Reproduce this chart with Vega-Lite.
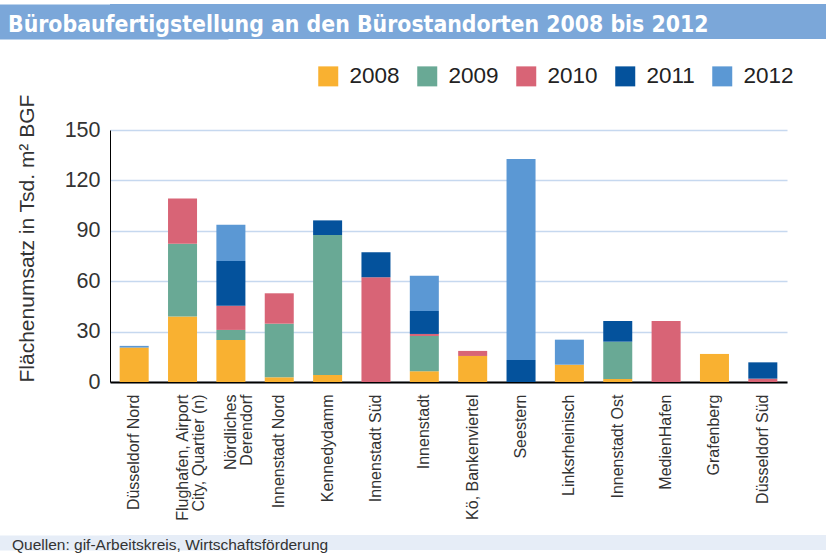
{
  "$schema": "https://vega.github.io/schema/vega-lite/v6.json",
  "background": "white",
  "padding": {"left": 0, "top": 4, "right": 0, "bottom": 0},
  "spacing": 13,
  "config": {"view": {"stroke": null}, "font": "Liberation Sans"},
  "resolve": {"scale": {"color": "independent", "y": "independent"}, "legend": {"color": "independent"}, "axis": {"y": "independent"}},
  "vconcat": [
    {
      "width": 716,
      "height": 35,
      "view": {"fill": "#7ba7d9", "stroke": null},
      "data": {"values": [{"t": "Bürobaufertigstellung an den Bürostandorten 2008 bis 2012"}]},
      "mark": {"type": "text", "align": "left", "baseline": "alphabetic", "dy": 10.5, "font": "DejaVu Sans Condensed, Liberation Sans, sans-serif", "fontWeight": "bold", "fontSize": 22.8, "color": "white"},
      "encoding": {
        "text": {"field": "t"},
        "x": {"value": -102},
        "y": {"field": "t", "type": "nominal", "axis": {"title": null, "labels": false, "ticks": false, "grid": false, "domainColor": "#7ba7d9", "domainWidth": 236}}
      }
    },
    {
      "vconcat": [
        {
          "width": 677,
          "height": 252,
          "data": {"values": [
            {"Standort": "Düsseldorf Nord", "Jahr": "2008", "Wert": 20.5},
            {"Standort": "Düsseldorf Nord", "Jahr": "2012", "Wert": 1.0},
            {"Standort": "Flughafen, Airport\nCity, Quartier (n)", "Jahr": "2008", "Wert": 39},
            {"Standort": "Flughafen, Airport\nCity, Quartier (n)", "Jahr": "2009", "Wert": 43.3},
            {"Standort": "Flughafen, Airport\nCity, Quartier (n)", "Jahr": "2010", "Wert": 27},
            {"Standort": "Nördliches\nDerendorf", "Jahr": "2008", "Wert": 25},
            {"Standort": "Nördliches\nDerendorf", "Jahr": "2009", "Wert": 6},
            {"Standort": "Nördliches\nDerendorf", "Jahr": "2010", "Wert": 14.4},
            {"Standort": "Nördliches\nDerendorf", "Jahr": "2011", "Wert": 26.6},
            {"Standort": "Nördliches\nDerendorf", "Jahr": "2012", "Wert": 21.6},
            {"Standort": "Innenstadt Nord", "Jahr": "2008", "Wert": 2.8},
            {"Standort": "Innenstadt Nord", "Jahr": "2009", "Wert": 31.9},
            {"Standort": "Innenstadt Nord", "Jahr": "2010", "Wert": 18.1},
            {"Standort": "Kennedydamm", "Jahr": "2008", "Wert": 4.2},
            {"Standort": "Kennedydamm", "Jahr": "2009", "Wert": 83.3},
            {"Standort": "Kennedydamm", "Jahr": "2011", "Wert": 8.7},
            {"Standort": "Innenstadt Süd", "Jahr": "2010", "Wert": 62.3},
            {"Standort": "Innenstadt Süd", "Jahr": "2011", "Wert": 14.9},
            {"Standort": "Innenstadt", "Jahr": "2008", "Wert": 6.4},
            {"Standort": "Innenstadt", "Jahr": "2009", "Wert": 21},
            {"Standort": "Innenstadt", "Jahr": "2010", "Wert": 1.2},
            {"Standort": "Innenstadt", "Jahr": "2011", "Wert": 13.7},
            {"Standort": "Innenstadt", "Jahr": "2012", "Wert": 21},
            {"Standort": "Kö, Bankenviertel", "Jahr": "2008", "Wert": 15.5},
            {"Standort": "Kö, Bankenviertel", "Jahr": "2010", "Wert": 3},
            {"Standort": "Seestern", "Jahr": "2011", "Wert": 13.1},
            {"Standort": "Seestern", "Jahr": "2012", "Wert": 119.6},
            {"Standort": "Linksrheinisch", "Jahr": "2008", "Wert": 10.3},
            {"Standort": "Linksrheinisch", "Jahr": "2012", "Wert": 14.9},
            {"Standort": "Innenstadt Ost", "Jahr": "2008", "Wert": 1.8},
            {"Standort": "Innenstadt Ost", "Jahr": "2009", "Wert": 22.2},
            {"Standort": "Innenstadt Ost", "Jahr": "2011", "Wert": 12.3},
            {"Standort": "MedienHafen", "Jahr": "2010", "Wert": 36.3},
            {"Standort": "Grafenberg", "Jahr": "2008", "Wert": 16.7},
            {"Standort": "Düsseldorf Süd", "Jahr": "2010", "Wert": 2},
            {"Standort": "Düsseldorf Süd", "Jahr": "2011", "Wert": 9.7}
          ]},
          "mark": {"type": "bar"},
          "encoding": {
            "x": {
              "field": "Standort", "type": "nominal", "sort": null,
              "scale": {"paddingInner": 0.4, "paddingOuter": 0.2},
              "axis": {
                "title": null, "labelAngle": -90, "labelAlign": "right", "labelBaseline": "middle",
                "labelPadding": 12, "ticks": false, "tickSize": 0, "domainColor": "black", "domainWidth": 2,
                "labelFontSize": 16, "labelColor": "#333", "labelExpr": "split(datum.label, '\\n')",
                "labelLineHeight": 16, "labelLimit": 300, "labelOverlap": false
              }
            },
            "y": {
              "field": "Wert", "type": "quantitative", "stack": "zero",
              "scale": {"domain": [0, 150], "nice": false},
              "axis": {
                "title": ["", "Flächenumsatz in Tsd. m² BGF"], "titleFontSize": 21, "titleFontWeight": "normal",
                "titleColor": "#333", "titleAnchor": "start", "titlePadding": 27, "titleLineHeight": 16,
                "labelFontSize": 21.5, "labelColor": "#333", "labelPadding": 10, "ticks": false, "tickSize": 0,
                "domainColor": "black", "domainWidth": 1, "gridColor": "#c6d8ef", "gridWidth": 1.5,
                "values": [0, 30, 60, 90, 120, 150]
              }
            },
            "color": {
              "field": "Jahr", "type": "nominal",
              "scale": {"domain": ["2008", "2009", "2010", "2011", "2012"], "range": ["#f9b131", "#69a995", "#d86476", "#04529c", "#5b98d4"]},
              "legend": {
                "title": null, "orient": "none", "direction": "horizontal", "legendX": 194, "legendY": -78,
                "padding": 13, "symbolType": "square", "symbolSize": 400, "symbolStrokeWidth": 0,
                "symbolOpacity": 1, "labelFontSize": 22.5, "labelColor": "#222", "labelOffset": 10, "columnPadding": 16
              }
            },
            "order": {"field": "Jahr", "sort": "ascending"}
          }
        }
      ]
    },
    {
      "width": 716,
      "height": 15,
      "view": {"fill": "#e6edf7", "stroke": null},
      "data": {"values": [{"t": "Quellen: gif-Arbeitskreis, Wirtschaftsförderung"}]},
      "mark": {"type": "text", "align": "left", "baseline": "top", "dy": -4.5, "fontSize": 15.5, "color": "#333"},
      "encoding": {
        "text": {"field": "t"},
        "x": {"value": -98},
        "y": {"field": "t", "type": "nominal", "axis": {"title": null, "labels": false, "ticks": false, "grid": false, "domainColor": "#e6edf7", "domainWidth": 236}}
      }
    }
  ]
}
